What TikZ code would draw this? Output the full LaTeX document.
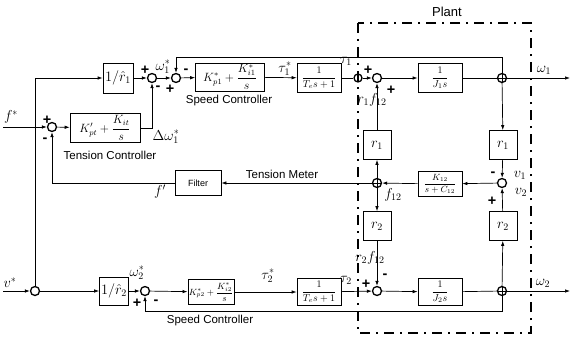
\documentclass[tikz,border=0pt]{standalone}
\usepackage{amsmath}
\usepackage{fontspec}
\setsansfont{Liberation Sans}
\usetikzlibrary{arrows.meta,positioning,calc}
\tikzset{
  blockbox/.style={draw,line width=.7pt,inner sep=1pt,anchor=center,font=\normalsize},
  sumnode/.style={circle,draw,line width=1.3pt,inner sep=0pt,minimum size=9pt},
  crossnode/.style={sumnode,path picture={
      \draw[line width=.8pt] (path picture bounding box.north) -- (path picture bounding box.south)
        (path picture bounding box.west) -- (path picture bounding box.east);}},
  sigline/.style={line width=.7pt},
  sigarrow/.style={sigline,-{Latex[length=5pt,width=3.5pt]}}
}

\begin{document}
\begin{tikzpicture}[
  x=1pt,
  y=-1pt,
  signlabel/.style={
    font=\sffamily\bfseries\Large,
    inner sep=0pt
  },
  sflabel/.style={
    font=\sffamily\fontsize{11.5}{12}\selectfont,
    inner sep=0pt
  },
  mathlabel/.style={
    font=\Large,
    inner sep=0pt
  },
  plantframe/.style={
    line width=2.2pt,
    dash pattern=on 10pt off 6pt on 2pt off 6pt
  }
]
  \useasboundingbox (0,0) rectangle (572,337);

  % --------------------------------------------------------------
  % Upper loop: roll 1 speed controller and plant.
  % --------------------------------------------------------------
  \coordinate (cTL) at (35,78);
  \node[blockbox,minimum width=30pt,minimum height=30pt,font=\Large] (bInvR1) at (118,78) {$1/\hat{r}_1$};
  \node[sumnode] (sW1) at (152,78) {};
  \node[sumnode] (sS1) at (176,78) {};
  \node[blockbox,minimum width=69pt,minimum height=28pt,font=\large] (bSC1) at (230,77)
    {$K^{*}_{p1}+\dfrac{K^{*}_{i1}}{s}$};
  \node[blockbox,minimum width=44pt,minimum height=29pt] (bAct1) at (319,78)
    {$\dfrac{1}{T_{e}s+1}$};
  \node[sumnode,minimum size=8pt] (jT1) at (358,78) {};
  \node[sumnode] (sF1) at (377,78) {};
  \node[blockbox,minimum width=44pt,minimum height=29pt] (bJ1) at (440,78)
    {$\dfrac{1}{J_{1}s}$};
  \node[crossnode] (jW1) at (502,78) {};
  \coordinate (cOut1) at (570,78);
  \coordinate (cFbA) at (502,57);
  \coordinate (cFbB) at (176,57);

  % --------------------------------------------------------------
  % Tension loop.
  % --------------------------------------------------------------
  \coordinate (cF) at (3,127);
  \node[sumnode] (sT) at (52,127) {};
  \node[blockbox,minimum width=70pt,minimum height=29pt,font=\large] (bTC) at (105,128)
    {$K'_{pt}+\dfrac{K_{it}}{s}$};
  \node[blockbox,minimum width=46pt,minimum height=25pt,font=\sffamily\small] (bFilt) at (198,183) {Filter};

  % --------------------------------------------------------------
  % Web between the rolls.
  % --------------------------------------------------------------
  \node[blockbox,minimum width=28pt,minimum height=29pt,font=\Large] (bR1a) at (377,145) {$r_1$};
  \node[crossnode] (jF12) at (377,183) {};
  \node[blockbox,minimum width=28pt,minimum height=29pt,font=\Large] (bR2a) at (377,226) {$r_2$};
  \node[blockbox,minimum width=28pt,minimum height=29pt,font=\Large] (bR1b) at (503,145) {$r_1$};
  \node[sumnode] (sV) at (502,183) {};
  \node[blockbox,minimum width=28pt,minimum height=29pt,font=\Large] (bR2b) at (503,226) {$r_2$};
  \node[blockbox,minimum width=44pt,minimum height=25pt,font=\small] (bK12) at (440,184)
    {$\dfrac{K_{12}}{s+C_{12}}$};

  % --------------------------------------------------------------
  % Lower loop: roll 2 speed controller and plant.
  % --------------------------------------------------------------
  \coordinate (cIn2) at (3,291);
  \node[sumnode] (jV) at (35,291) {};
  \node[blockbox,minimum width=29pt,minimum height=28pt,font=\Large] (bInvR2) at (114,291) {$1/\hat{r}_2$};
  \node[sumnode] (sW2) at (145,291) {};
  \node[blockbox,minimum width=43pt,minimum height=25pt,font=\small] (bSC2) at (211,292)
    {$K^{*}_{p2}+\dfrac{K^{*}_{i2}}{s}$};
  \node[blockbox,minimum width=44pt,minimum height=27pt] (bAct2) at (319,292)
    {$\dfrac{1}{T_{e}s+1}$};
  \node[sumnode] (sF2) at (377,291) {};
  \node[blockbox,minimum width=44pt,minimum height=27pt] (bJ2) at (440,292)
    {$\dfrac{1}{J_{2}s}$};
  \node[crossnode] (jW2) at (502,291) {};
  \coordinate (cOut2) at (570,291);
  \coordinate (cFbC) at (502,311);
  \coordinate (cFbD) at (145,311);

  % --------------------------------------------------------------
  % Signal lines.
  % --------------------------------------------------------------
  \draw[sigline] (jV) -- (cTL);
  \draw[sigarrow] (cTL) -- (bInvR1);
  \draw[sigarrow] (bInvR1) -- (sW1);
  \draw[sigarrow] (sW1) -- (sS1);
  \draw[sigarrow] (sS1) -- (bSC1);
  \draw[sigarrow] (bSC1) -- (bAct1);
  \draw[sigline] (bAct1) -- (jT1);
  \draw[sigarrow] (jT1) -- (sF1);
  \draw[sigarrow] (sF1) -- (bJ1);
  \draw[sigline] (bJ1) -- (jW1);
  \draw[sigarrow] (jW1) -- (cOut1);
  \draw[sigarrow] (jW1) -- (cFbA) -- (cFbB) -- (sS1);

  \draw[sigarrow] (cF) -- (sT);
  \draw[sigarrow] (sT) -- (bTC);
  \draw[sigarrow] (bTC.east) -| (sW1);
  \draw[sigarrow] (jF12) -- (bFilt);
  \draw[sigarrow] (bFilt.west) -| (sT);

  \draw[sigarrow] (jF12) -- (bR1a);
  \draw[sigarrow] (bR1a) -- (sF1);
  \draw[sigarrow] (jF12) -- (bR2a);
  \draw[sigarrow] (bR2a) -- (sF2);
  \draw[sigarrow] (jW1) -- (bR1b);
  \draw[sigarrow] (bR1b) -- (sV);
  \draw[sigarrow] (jW2) -- (bR2b);
  \draw[sigarrow] (bR2b) -- (sV);
  \draw[sigarrow] (sV) -- (bK12);
  \draw[sigarrow] (bK12) -- (jF12);

  \draw[sigarrow] (cIn2) -- (jV);
  \draw[sigarrow] (jV) -- (bInvR2);
  \draw[sigarrow] (bInvR2) -- (sW2);
  \draw[sigarrow] (sW2) -- (bSC2);
  \draw[sigarrow] (bSC2) -- (bAct2);
  \draw[sigarrow] (bAct2) -- (sF2);
  \draw[sigarrow] (sF2) -- (bJ2);
  \draw[sigline] (bJ2) -- (jW2);
  \draw[sigarrow] (jW2) -- (cOut2);
  \draw[sigarrow] (jW2) -- (cFbC) -- (cFbD) -- (sW2);

  % plant boundary
  \draw[plantframe] (358,23) rectangle (531,333);
  \node[sflabel,font=\sffamily\fontsize{13}{14}\selectfont] (lPlant) at (447,12) {Plant};

  % --------------------------------------------------------------
  % Labels and signs.
  % --------------------------------------------------------------
  \node[mathlabel] (lW1s) at (163,67) {$\omega_1^{*}$};
  \node[signlabel] at (145,70) {+};
  \node[signlabel] at (158,88) {-};
  \node[signlabel] at (170,89) {+};
  \node[signlabel] at (186,71) {-};
  \node[sflabel] (lSC1) at (229,101) {Speed Controller};
  \node[mathlabel] (lT1s) at (285,69) {$\tau_1^{*}$};
  \node[mathlabel] (lT1) at (346,61) {$\tau_1$};
  \node[signlabel] at (368,70) {+};
  \node[signlabel] at (391,90) {+};
  \node[mathlabel] (lR1F) at (372,100) {$r_1 f_{12}$};
  \node[mathlabel] (lW1) at (544,70) {$\omega_1$};

  \node[mathlabel] (lFs) at (11,117) {$f^{*}$};
  \node[signlabel] at (47,120) {+};
  \node[signlabel] at (45,140) {-};
  \node[mathlabel] (lDW) at (166,137) {$\Delta\omega_1^{*}$};
  \node[sflabel] (lTC) at (110,155) {Tension Controller};
  \node[sflabel] (lTM) at (282,174) {Tension Meter};
  \node[mathlabel] (lFp) at (160,192) {$f'$};
  \node[mathlabel] (lF12) at (393,195) {$f_{12}$};
  \node[signlabel] at (493,174) {-};
  \node[mathlabel] (lV1) at (520,175) {$v_1$};
  \node[signlabel] at (492,201) {+};
  \node[mathlabel] (lV2) at (521,192) {$v_2$};

  \node[mathlabel] (lR2F) at (370,258) {$r_2 f_{12}$};
  \node[signlabel] at (385,276) {-};
  \node[mathlabel] (lT2) at (346,280) {$\tau_2$};
  \node[signlabel] at (366,284) {+};
  \node[mathlabel] (lW2) at (543,283) {$\omega_2$};
  \node[mathlabel] (lVs) at (10,283) {$v^{*}$};
  \node[mathlabel] (lW2s) at (137,273) {$\omega_2^{*}$};
  \node[signlabel] at (137,303) {+};
  \node[signlabel] at (156,302) {-};
  \node[mathlabel] (lT2s) at (268,276) {$\tau_2^{*}$};
  \node[sflabel] (lSC2) at (210,321) {Speed Controller};
\end{tikzpicture}
\end{document}
